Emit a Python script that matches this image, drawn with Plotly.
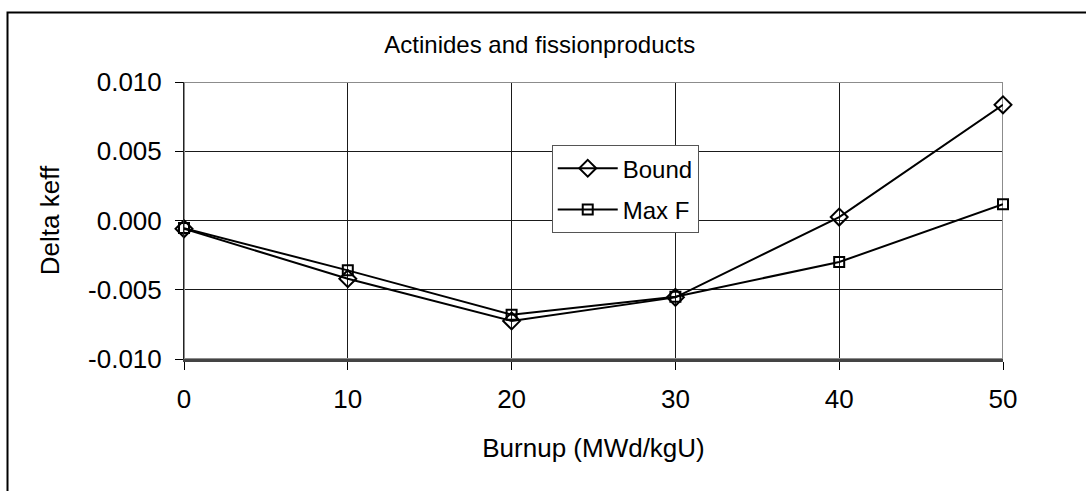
import plotly.graph_objects as go

burnup = [0, 10, 20, 30, 40, 50]
bound = [-0.00060, -0.00420, -0.00725, -0.00555, 0.00025, 0.00835]
max_f = [-0.00055, -0.00360, -0.00680, -0.00550, -0.00300, 0.00118]
x_ticks = [0, 10, 20, 30, 40, 50]
y_ticks = [-0.010, -0.005, 0.0, 0.005, 0.010]
y_ticklabels = ["-0.010", "-0.005", "0.000", "0.005", "0.010"]

FONT = "Liberation Sans, Arial, sans-serif"

fig = go.Figure()
fig.add_trace(go.Scatter(
    x=burnup, y=bound, name="Bound", mode="lines+markers", legendgroup="a",
    line=dict(color="black", width=2), cliponaxis=False,
    marker=dict(symbol="diamond-open", size=13, color="black", line=dict(width=2)),
))
fig.add_trace(go.Scatter(
    x=burnup, y=max_f, name="Max F", mode="lines+markers", legendgroup="b",
    line=dict(color="black", width=2), cliponaxis=False,
    marker=dict(symbol="square-open", size=10, color="black", line=dict(width=2)),
))

# plot-area border (gray) drawn between gridlines and traces
fig.add_shape(type="rect", xref="x", yref="y", x0=0, x1=50, y0=-0.010, y1=0.010,
              line=dict(color="#8c8c8c", width=2), layer="between")
# outer chart frame
fig.add_shape(type="rect", xref="paper", yref="paper", x0=-0.2155, x1=1.3, y0=-0.8, y1=1.251,
              line=dict(color="black", width=2), layer="above")

fig.update_layout(
    width=1086, height=491,
    margin=dict(l=184, r=83, t=82, b=132),
    paper_bgcolor="white", plot_bgcolor="white",
    font=dict(family=FONT, size=26, color="black"),
    showlegend=True,
    title=dict(text="Actinides and fissionproducts", x=0.497, xref="container", xanchor="center",
               y=1 - 45 / 491, yref="container", yanchor="middle",
               font=dict(size=24, family=FONT, color="black")),
    legend=dict(x=0.449, y=0.772, xanchor="left", yanchor="top",
                bgcolor="white", bordercolor="#555555", borderwidth=1,
                font=dict(size=24, family=FONT), itemwidth=60,
                tracegroupgap=7),
    xaxis=dict(range=[0, 50], tickvals=x_ticks, showgrid=True, gridcolor="#1a1a1a", gridwidth=1,
               showline=True, linecolor="#444444", linewidth=3, ticks="outside", ticklen=8,
               tickcolor="black", tickwidth=1, zeroline=False, ticklabelstandoff=7,
               tickfont=dict(size=26, family=FONT),
               title=dict(text="Burnup (MWd/kgU)", font=dict(size=26, family=FONT), standoff=26)),
    yaxis=dict(range=[-0.010, 0.010], tickvals=y_ticks, ticktext=y_ticklabels,
               showgrid=True, gridcolor="#1a1a1a", gridwidth=1,
               showline=True, linecolor="#222222", linewidth=1, ticks="outside", ticklen=8,
               tickcolor="black", tickwidth=1, zeroline=False, ticklabelstandoff=8,
               tickfont=dict(size=26, family=FONT),
               title=dict(text="Delta keff", font=dict(size=26, family=FONT), standoff=20)),
)

fig.write_html("out.html")
